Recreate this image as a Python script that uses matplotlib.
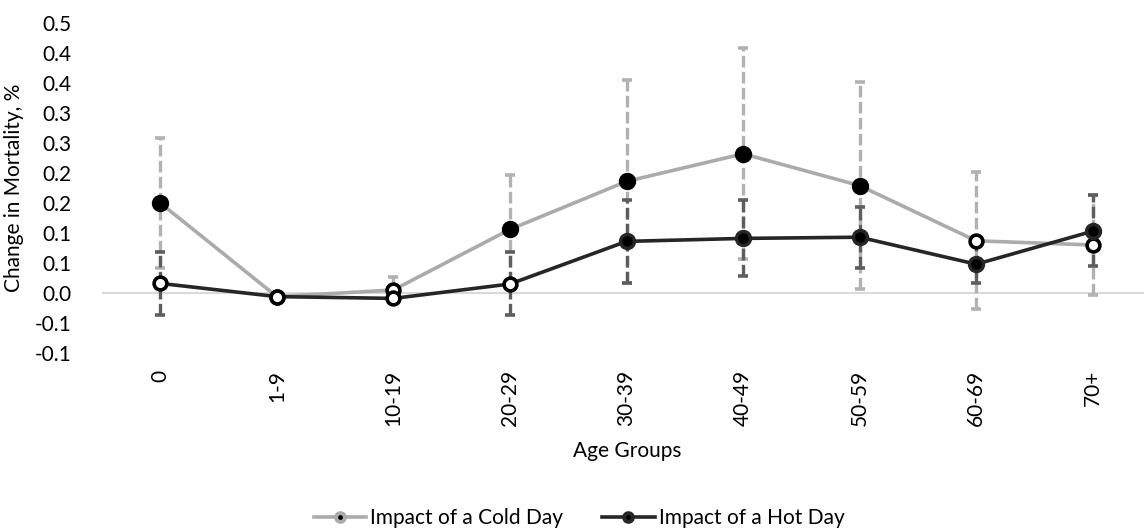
import numpy as np
import matplotlib
matplotlib.use("Agg")
import matplotlib.pyplot as plt

plt.rcParams['font.family'] = ['Lato', 'DejaVu Sans']

# data
ages = ['0', '1-9', '10-19', '20-29', '30-39', '40-49', '50-59', '60-69', '70+']

cold = [0.150, -0.006, 0.005, 0.106, 0.186, 0.232, 0.179, 0.087, 0.080]
cold_hi = [0.259, -0.004, 0.027, 0.196, 0.355, 0.408, 0.351, 0.201, 0.163]
cold_lo = [0.041, -0.008, -0.017, 0.016, 0.016, 0.056, 0.007, -0.026, -0.003]
cold_sig = [True, False, False, True, True, True, True, False, False]

hot = [0.016, -0.006, -0.009, 0.015, 0.086, 0.091, 0.093, 0.048, 0.103]
hot_hi = [0.069, -0.004, -0.007, 0.069, 0.155, 0.155, 0.144, 0.080, 0.163]
hot_lo = [-0.037, -0.008, -0.011, -0.037, 0.016, 0.028, 0.041, 0.016, 0.045]
hot_sig = [False, False, False, False, True, True, True, True, True]

ytick_vals = [-0.1, -0.05, 0.0, 0.05, 0.1, 0.15, 0.2, 0.25, 0.3, 0.35, 0.4, 0.45]
ytick_labels = ['-0.1', '-0.1', '0.0', '0.1', '0.1', '0.2', '0.2', '0.3', '0.3', '0.4', '0.4', '0.5']

c_cold = '#ABABAB'
c_cold_err = '#B2B2B2'
c_hot = '#262626'
c_hot_err = '#5E5E5E'
fs = 15

fig = plt.figure(figsize=(11.44, 5.32), dpi=100)
ax = fig.add_axes([102 / 1144, 1 - 353 / 532, 1049 / 1144, 330 / 532])

x = np.arange(len(ages))
cold = np.array(cold); hot = np.array(hot)
cold_err = [cold - np.array(cold_lo), np.array(cold_hi) - cold]
hot_err = [hot - np.array(hot_lo), np.array(hot_hi) - hot]

ax.axhline(0, color='#D9D9D9', lw=1.5, zorder=1)

# error bars
for y, err, col in [(cold, cold_err, c_cold_err), (hot, hot_err, c_hot_err)]:
    eb = ax.errorbar(x, y, yerr=err, fmt='none', ecolor=col, elinewidth=2.4,
                     capsize=3.8, capthick=2.6, zorder=2)
    eb[2][0].set_linestyle((0, (3.5, 1.3)))

# lines (legend handles)
ax.plot(x, cold, color=c_cold, lw=2.6, marker='o', ms=7, mfc='black',
        mec=c_cold, mew=2.8, label='Impact of a Cold Day', zorder=3)
ax.plot(x, hot, color=c_hot, lw=2.6, marker='o', ms=7, mfc='black',
        mec=c_hot, mew=2.8, label='Impact of a Hot Day', zorder=4)

# significance markers
cs = np.array(cold_sig); hs = np.array(hot_sig)
ax.plot(x[cs], cold[cs], 'o', ms=10, mfc='black', mec='black', mew=2.5, zorder=5)
ax.plot(x[~cs], cold[~cs], 'o', ms=9.2, mfc='white', mec='black', mew=2.6, zorder=5)
ax.plot(x[hs], hot[hs], 'o', ms=10, mfc='black', mec=c_hot, mew=2.5, zorder=6)
ax.plot(x[~hs], hot[~hs], 'o', ms=9.2, mfc='white', mec='black', mew=2.6, zorder=6)

ax.set_xlim(-0.5, len(ages) - 0.5)
ax.set_ylim(-0.1, 0.45)
ax.set_yticks(ytick_vals)
ax.set_yticklabels(ytick_labels)
ax.set_xticks(x)
ax.set_xticklabels(ages, rotation=90)
ax.tick_params(axis='both', length=0, labelsize=fs)
ax.tick_params(axis='y', pad=22)
ax.tick_params(axis='x', pad=12)
for s in ax.spines.values():
    s.set_visible(False)

ax.set_ylabel('Change in Mortality, %', fontsize=fs)
ax.yaxis.set_label_coords(-(102 - 24) / 1049, 0.5)
fig.text(627 / 1144, 1 - 451 / 532, 'Age Groups', fontsize=fs, ha='center', va='center')

fig.legend(loc='center', bbox_to_anchor=(579 / 1144, 1 - 518 / 532), ncol=2,
           frameon=False, fontsize=fs, handlelength=2.5, handletextpad=0.2,
           columnspacing=1.9, markerscale=0.9)

fig.savefig('out.png', dpi=100)
